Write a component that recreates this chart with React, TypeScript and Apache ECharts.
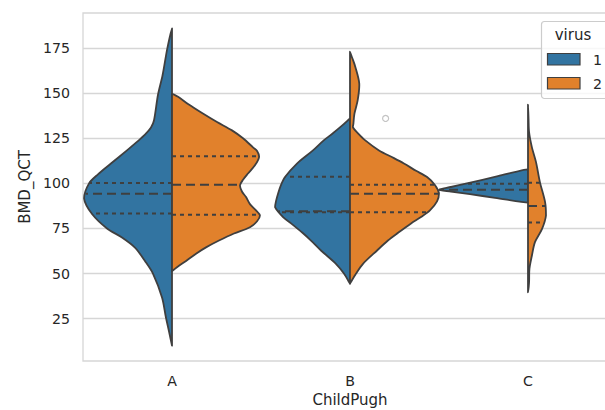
import React, { useEffect, useRef } from 'react';
import * as echarts from 'echarts';

const categories = ['A', 'B', 'C'];
const hueLevels = ['1', '2'];
const yTicks = [25, 50, 75, 100, 125, 150, 175];

// outline of each half-violin: [BMD_QCT value, half width as a fraction of the category band]
const profileA1 = [[10, 0], [18, 0.017], [25.6, 0.034], [36.7, 0.056], [50, 0.107], [57, 0.152], [64.4, 0.208], [70, 0.281], [75, 0.365], [83, 0.449], [91.7, 0.494], [100, 0.466], [105, 0.416], [111, 0.343], [118.3, 0.253], [123, 0.197], [127, 0.152], [131, 0.118], [135, 0.101], [149, 0.079], [160, 0.053], [175, 0.026], [186, 0]];
const profileA2 = [[51.3, 0], [53.5, 0.028], [57, 0.079], [61, 0.135], [64.5, 0.191], [68.3, 0.264], [72.2, 0.348], [75.7, 0.438], [79, 0.478], [82.2, 0.494], [85, 0.472], [88.5, 0.438], [92.4, 0.416], [95.5, 0.393], [98.9, 0.382], [102, 0.399], [105.5, 0.427], [110, 0.466], [114.6, 0.489], [118, 0.478], [120, 0.455], [125, 0.399], [129.4, 0.337], [134, 0.253], [139, 0.169], [144, 0.09], [148, 0.034], [149.7, 0]];
const profileB1 = [[44.4, 0], [50, 0.034], [55.4, 0.079], [62.8, 0.163], [68.3, 0.219], [72.6, 0.267], [77.8, 0.331], [81.3, 0.376], [86.8, 0.421], [90, 0.416], [94.4, 0.404], [99, 0.388], [103.5, 0.365], [111, 0.298], [118.3, 0.208], [124, 0.146], [127.8, 0.096], [132, 0.045], [136, 0]];
const profileB2 = [[44.4, 0], [50, 0.034], [55.4, 0.073], [62.8, 0.152], [68.3, 0.213], [72.6, 0.27], [77.8, 0.343], [81.3, 0.399], [85, 0.449], [90, 0.489], [94.4, 0.5], [99, 0.478], [103.5, 0.433], [107, 0.371], [111, 0.303], [114, 0.247], [118.3, 0.163], [124, 0.084], [127.8, 0.045], [131, 0.017], [133, 0.019], [138.7, 0.025], [146, 0.043], [155.4, 0.052], [164.6, 0.03], [170, 0.011], [173, 0]];
const profileC1 = [[89.3, 0], [92, 0.185], [94, 0.326], [95.5, 0.433], [96.5, 0.5], [98, 0.433], [100, 0.343], [104, 0.169], [107.8, 0]];
const profileC2 = [[39.6, 0], [45, 0.006], [52.6, 0.008], [60, 0.022], [67.4, 0.039], [74.8, 0.079], [82.2, 0.101], [89.6, 0.096], [100.7, 0.067], [111.8, 0.045], [120, 0.022], [128.5, 0.006], [136, 0.003], [143.7, 0]];

// [first quartile, median, third quartile] per category
const quartiles1 = [[83.3, 94.3, 100.2], [84.0, 84.5, 103.7], [null, 96.5, 99.8]];
const quartiles2 = [[82.6, 99.3, 115.0], [84.0, 94.3, 99.3], [78.3, 87.4, 100.4]];

// stray point
const strayCats = ['B'];
const strayValues = [136];
const strayOffsets = [0.2];

const profiles = [
  [profileA1, profileB1, profileC1],
  [profileA2, profileB2, profileC2],
];
const quartiles = [quartiles1, quartiles2];
const hueColors = ['#3274a1', '#e1812c'];
const OUTLINE = '#3f3f3f';
const TEXT = '#262626';
const GRIDC = '#d6d6d6';
const FONT = '"DejaVu Sans"';

function interp(prof: number[][], q: number) {
  for (let i = 0; i < prof.length - 1; i++) {
    const [v0, w0] = prof[i];
    const [v1, w1] = prof[i + 1];
    if (q >= v0 && q <= v1) {
      return w0 + ((q - v0) / (v1 - v0 || 1)) * (w1 - w0);
    }
  }
  return 0;
}

function makeViolinRender(hueIdx: number) {
  return (params: any, api: any) => {
    const ci = api.value(0);
    const prof = profiles[hueIdx][ci];
    const sign = hueIdx === 0 ? -1 : 1;
    const cx = api.coord([ci, prof[0][0]])[0];
    const band = api.size([1, 0])[0];
    const pts = prof.map(([v, w]) => {
      const p = api.coord([ci, v]);
      return [cx + sign * w * band, p[1]];
    });
    const children: any[] = [
      {
        type: 'polygon',
        shape: { points: pts, smooth: 0.3, smoothConstraint: [pts[0].slice(), pts[0].slice()] },
        style: { fill: hueColors[hueIdx], stroke: OUTLINE, lineWidth: 1.8, lineJoin: 'round' },
      },
    ];
    quartiles[hueIdx][ci].forEach((q: number | null, k: number) => {
      if (q == null) return;
      const w = interp(prof, q);
      const y = api.coord([ci, q])[1];
      children.push({
        type: 'line',
        shape: { x1: cx, y1: y, x2: cx + sign * w * band, y2: y },
        style: { stroke: OUTLINE, lineWidth: 2, lineDash: k === 1 ? [9, 5] : [4, 4], fill: null },
      });
    });
    return { type: 'group', children };
  };
}

export default function App() {
  const ref = useRef<HTMLDivElement>(null);
  useEffect(() => {
    if (!ref.current) return;
    const chart = echarts.init(ref.current, null, { renderer: 'svg' });
    const series: any[] = hueLevels.map((h, hi) => ({
      type: 'custom',
      name: h,
      renderItem: makeViolinRender(hi),
      encode: { x: 0, y: 1 },
      data: categories.map((c, ci) => [c, quartiles[hi][ci][1]]),
      z: 2,
    }));
    series.push({
      type: 'custom',
      name: 'stray',
      renderItem: (params: any, api: any) => {
        const p = api.coord([api.value(0), api.value(1)]);
        const band = api.size([1, 0])[0];
        return {
          type: 'circle',
          shape: { cx: p[0] + strayOffsets[params.dataIndex] * band, cy: p[1], r: 3 },
          style: { fill: 'none', stroke: '#c4c4c4', lineWidth: 1.2 },
        };
      },
      encode: { x: 0, y: 1 },
      data: strayCats.map((c, i) => [c, strayValues[i]]),
      z: 3,
    });
    chart.setOption({
      animation: false,
      backgroundColor: '#ffffff',
      grid: {
        left: 83, top: 13, width: 534, height: 348,
        outerBoundsMode: 'none',
        containLabel: false,
        show: true, borderColor: GRIDC, borderWidth: 1.3, backgroundColor: 'transparent',
      },
      xAxis: {
        type: 'category',
        data: categories,
        boundaryGap: true,
        axisLine: { show: false },
        axisTick: { show: false },
        splitLine: { show: false },
        axisLabel: { color: TEXT, fontSize: 14.2, fontFamily: FONT, margin: 13 },
        name: 'ChildPugh',
        nameLocation: 'middle',
        nameGap: 31,
        nameTextStyle: { color: TEXT, fontSize: 15, fontFamily: FONT },
      },
      yAxis: {
        type: 'value',
        min: 1.5,
        max: 194.5,
        axisLine: { show: false },
        axisTick: { show: false, customValues: yTicks },
        axisLabel: { color: TEXT, fontSize: 14.2, fontFamily: FONT, margin: 13, customValues: yTicks },
        splitLine: { show: true, lineStyle: { color: GRIDC, width: 1.3 } },
        name: 'BMD_QCT',
        nameLocation: 'middle',
        nameGap: 46,
        nameTextStyle: { color: TEXT, fontSize: 15, fontFamily: FONT },
      },
      series,
      graphic: [
        {
          type: 'rect',
          shape: { x: 541.5, y: 21.5, width: 80, height: 77, r: 3 },
          style: { fill: 'rgba(255,255,255,0.8)', stroke: '#cccccc', lineWidth: 1.2 },
          z: 10,
        },
        {
          type: 'text',
          style: { text: 'virus', x: 573, y: 35, align: 'center', verticalAlign: 'middle', textAlign: 'center', textVerticalAlign: 'middle', font: `15px ${FONT}`, fill: TEXT },
          z: 11,
        },
        ...hueLevels.map((h, i) => ({
          type: 'rect',
          shape: { x: 547.5, y: 53.5 + 24 * i, width: 32.5, height: 11.5 },
          style: { fill: hueColors[i], stroke: OUTLINE, lineWidth: 1.2 },
          z: 11,
        })),
        ...hueLevels.map((h, i) => ({
          type: 'text',
          style: { text: h, x: 593, y: 59.5 + 24 * i, verticalAlign: 'middle', textVerticalAlign: 'middle', font: `14.2px ${FONT}`, fill: TEXT },
          z: 11,
        })),
      ],
    });
    return () => chart.dispose();
  }, []);
  return <div ref={ref} style={{ position: 'fixed', left: 0, top: 0, width: 605, height: 410 }} />;
}
